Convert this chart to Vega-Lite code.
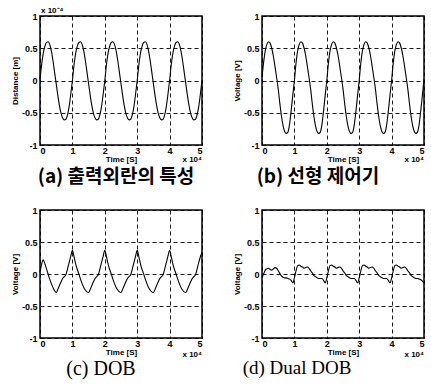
{
"$schema": "https://vega.github.io/schema/vega-lite/v6.json",
"padding": {"left": 10, "top": 6, "right": 3, "bottom": 3},
"background": "white",
"config": {
 "view": {"stroke": "black", "strokeWidth": 1.5},
 "axis": {"grid": true, "gridColor": "black", "gridDash": [4, 3], "gridWidth": 0.9, "gridOpacity": 1, "domain": false, "ticks": false, "labelOverlap": false,
  "labelFont": "Liberation Sans", "labelFontWeight": "bold", "labelFontSize": 9, "labelColor": "black", "labelPadding": 3,
  "titleFont": "Liberation Sans", "titleFontWeight": "bold", "titleFontSize": 8, "titleColor": "black", "titlePadding": 2},
 "axisX": {"labelPadding": 1, "titlePadding": 0},
 "title": {"orient": "bottom", "font": "Noto Sans CJK KR", "fontSize": 19, "fontWeight": "bold", "color": "black", "offset": 0}
},
"datasets": {
 "a": [
  {"t":0,"v":0.02},{"t":0.05,"v":0.24},{"t":0.1,"v":0.42},{"t":0.15,"v":0.53},{"t":0.2,"v":0.59},{"t":0.25,"v":0.6},{"t":0.3,"v":0.56},{"t":0.35,"v":0.46},{"t":0.4,"v":0.31},{"t":0.45,"v":0.13},{"t":0.5,"v":-0.05},{"t":0.55,"v":-0.23},{"t":0.6,"v":-0.39},{"t":0.65,"v":-0.51},{"t":0.7,"v":-0.58},{"t":0.75,"v":-0.61},{"t":0.8,"v":-0.6},{"t":0.85,"v":-0.53},{"t":0.9,"v":-0.4},{"t":0.95,"v":-0.21},
  {"t":1,"v":0.0},{"t":1.05,"v":0.24},{"t":1.1,"v":0.42},{"t":1.15,"v":0.53},{"t":1.2,"v":0.59},{"t":1.25,"v":0.6},{"t":1.3,"v":0.56},{"t":1.35,"v":0.46},{"t":1.4,"v":0.31},{"t":1.45,"v":0.13},{"t":1.5,"v":-0.05},{"t":1.55,"v":-0.23},{"t":1.6,"v":-0.39},{"t":1.65,"v":-0.51},{"t":1.7,"v":-0.58},{"t":1.75,"v":-0.61},{"t":1.8,"v":-0.6},{"t":1.85,"v":-0.53},{"t":1.9,"v":-0.4},{"t":1.95,"v":-0.21},
  {"t":2,"v":0.0},{"t":2.05,"v":0.24},{"t":2.1,"v":0.42},{"t":2.15,"v":0.53},{"t":2.2,"v":0.59},{"t":2.25,"v":0.6},{"t":2.3,"v":0.56},{"t":2.35,"v":0.46},{"t":2.4,"v":0.31},{"t":2.45,"v":0.13},{"t":2.5,"v":-0.05},{"t":2.55,"v":-0.23},{"t":2.6,"v":-0.39},{"t":2.65,"v":-0.51},{"t":2.7,"v":-0.58},{"t":2.75,"v":-0.61},{"t":2.8,"v":-0.6},{"t":2.85,"v":-0.53},{"t":2.9,"v":-0.4},{"t":2.95,"v":-0.21},
  {"t":3,"v":0.0},{"t":3.05,"v":0.24},{"t":3.1,"v":0.42},{"t":3.15,"v":0.53},{"t":3.2,"v":0.59},{"t":3.25,"v":0.6},{"t":3.3,"v":0.56},{"t":3.35,"v":0.46},{"t":3.4,"v":0.31},{"t":3.45,"v":0.13},{"t":3.5,"v":-0.05},{"t":3.55,"v":-0.23},{"t":3.6,"v":-0.39},{"t":3.65,"v":-0.51},{"t":3.7,"v":-0.58},{"t":3.75,"v":-0.61},{"t":3.8,"v":-0.6},{"t":3.85,"v":-0.53},{"t":3.9,"v":-0.4},{"t":3.95,"v":-0.21},
  {"t":4,"v":0.0},{"t":4.05,"v":0.24},{"t":4.1,"v":0.42},{"t":4.15,"v":0.53},{"t":4.2,"v":0.59},{"t":4.25,"v":0.6},{"t":4.3,"v":0.56},{"t":4.35,"v":0.46},{"t":4.4,"v":0.31},{"t":4.45,"v":0.13},{"t":4.5,"v":-0.05},{"t":4.55,"v":-0.23},{"t":4.6,"v":-0.39},{"t":4.65,"v":-0.51},{"t":4.7,"v":-0.58},{"t":4.75,"v":-0.61},{"t":4.8,"v":-0.6},{"t":4.85,"v":-0.53},{"t":4.9,"v":-0.4},{"t":4.95,"v":-0.21},
  {"t":5,"v":0.0}
 ],
 "b": [
  {"t":0,"v":0.05},{"t":0.05,"v":0.28},{"t":0.1,"v":0.46},{"t":0.15,"v":0.56},{"t":0.2,"v":0.6},{"t":0.25,"v":0.58},{"t":0.3,"v":0.5},{"t":0.35,"v":0.38},{"t":0.4,"v":0.22},{"t":0.45,"v":0.05},{"t":0.5,"v":-0.13},{"t":0.55,"v":-0.35},{"t":0.6,"v":-0.55},{"t":0.65,"v":-0.7},{"t":0.7,"v":-0.79},{"t":0.75,"v":-0.82},{"t":0.8,"v":-0.8},{"t":0.85,"v":-0.68},{"t":0.9,"v":-0.47},{"t":0.95,"v":-0.23},
  {"t":1,"v":0.0},{"t":1.05,"v":0.27},{"t":1.1,"v":0.46},{"t":1.15,"v":0.56},{"t":1.2,"v":0.6},{"t":1.25,"v":0.58},{"t":1.3,"v":0.5},{"t":1.35,"v":0.38},{"t":1.4,"v":0.22},{"t":1.45,"v":0.05},{"t":1.5,"v":-0.13},{"t":1.55,"v":-0.35},{"t":1.6,"v":-0.55},{"t":1.65,"v":-0.7},{"t":1.7,"v":-0.79},{"t":1.75,"v":-0.82},{"t":1.8,"v":-0.8},{"t":1.85,"v":-0.68},{"t":1.9,"v":-0.47},{"t":1.95,"v":-0.23},
  {"t":2,"v":0.0},{"t":2.05,"v":0.27},{"t":2.1,"v":0.46},{"t":2.15,"v":0.56},{"t":2.2,"v":0.6},{"t":2.25,"v":0.58},{"t":2.3,"v":0.5},{"t":2.35,"v":0.38},{"t":2.4,"v":0.22},{"t":2.45,"v":0.05},{"t":2.5,"v":-0.13},{"t":2.55,"v":-0.35},{"t":2.6,"v":-0.55},{"t":2.65,"v":-0.7},{"t":2.7,"v":-0.79},{"t":2.75,"v":-0.82},{"t":2.8,"v":-0.8},{"t":2.85,"v":-0.68},{"t":2.9,"v":-0.47},{"t":2.95,"v":-0.23},
  {"t":3,"v":0.0},{"t":3.05,"v":0.27},{"t":3.1,"v":0.46},{"t":3.15,"v":0.56},{"t":3.2,"v":0.6},{"t":3.25,"v":0.58},{"t":3.3,"v":0.5},{"t":3.35,"v":0.38},{"t":3.4,"v":0.22},{"t":3.45,"v":0.05},{"t":3.5,"v":-0.13},{"t":3.55,"v":-0.35},{"t":3.6,"v":-0.55},{"t":3.65,"v":-0.7},{"t":3.7,"v":-0.79},{"t":3.75,"v":-0.82},{"t":3.8,"v":-0.8},{"t":3.85,"v":-0.68},{"t":3.9,"v":-0.47},{"t":3.95,"v":-0.23},
  {"t":4,"v":0.0},{"t":4.05,"v":0.27},{"t":4.1,"v":0.46},{"t":4.15,"v":0.56},{"t":4.2,"v":0.6},{"t":4.25,"v":0.58},{"t":4.3,"v":0.5},{"t":4.35,"v":0.38},{"t":4.4,"v":0.22},{"t":4.45,"v":0.05},{"t":4.5,"v":-0.13},{"t":4.55,"v":-0.35},{"t":4.6,"v":-0.55},{"t":4.65,"v":-0.7},{"t":4.7,"v":-0.79},{"t":4.75,"v":-0.82},{"t":4.8,"v":-0.8},{"t":4.85,"v":-0.68},{"t":4.9,"v":-0.47},{"t":4.95,"v":-0.23},
  {"t":5,"v":0.02}
 ],
 "c": [
  {"t":0,"v":0.03},{"t":0.05,"v":0.15},{"t":0.1,"v":0.22},{"t":0.15,"v":0.16},{"t":0.2,"v":0.08},{"t":0.25,"v":0.0},{"t":0.3,"v":-0.08},{"t":0.35,"v":-0.15},{"t":0.4,"v":-0.21},{"t":0.45,"v":-0.26},{"t":0.5,"v":-0.29},{"t":0.55,"v":-0.24},{"t":0.6,"v":-0.18},{"t":0.65,"v":-0.12},{"t":0.7,"v":-0.07},{"t":0.75,"v":-0.04},{"t":0.8,"v":-0.01},{"t":0.85,"v":0.08},{"t":0.9,"v":0.18},{"t":0.95,"v":0.28},
  {"t":1,"v":0.37},{"t":1.05,"v":0.27},{"t":1.1,"v":0.16},{"t":1.15,"v":0.07},{"t":1.2,"v":0.0},{"t":1.25,"v":-0.08},{"t":1.3,"v":-0.15},{"t":1.35,"v":-0.21},{"t":1.4,"v":-0.25},{"t":1.45,"v":-0.28},{"t":1.5,"v":-0.29},{"t":1.55,"v":-0.24},{"t":1.6,"v":-0.18},{"t":1.65,"v":-0.12},{"t":1.7,"v":-0.07},{"t":1.75,"v":-0.04},{"t":1.8,"v":-0.01},{"t":1.85,"v":0.08},{"t":1.9,"v":0.18},{"t":1.95,"v":0.28},
  {"t":2,"v":0.37},{"t":2.05,"v":0.27},{"t":2.1,"v":0.16},{"t":2.15,"v":0.07},{"t":2.2,"v":0.0},{"t":2.25,"v":-0.08},{"t":2.3,"v":-0.15},{"t":2.35,"v":-0.21},{"t":2.4,"v":-0.25},{"t":2.45,"v":-0.28},{"t":2.5,"v":-0.29},{"t":2.55,"v":-0.24},{"t":2.6,"v":-0.18},{"t":2.65,"v":-0.12},{"t":2.7,"v":-0.07},{"t":2.75,"v":-0.04},{"t":2.8,"v":-0.01},{"t":2.85,"v":0.08},{"t":2.9,"v":0.18},{"t":2.95,"v":0.28},
  {"t":3,"v":0.37},{"t":3.05,"v":0.27},{"t":3.1,"v":0.16},{"t":3.15,"v":0.07},{"t":3.2,"v":0.0},{"t":3.25,"v":-0.08},{"t":3.3,"v":-0.15},{"t":3.35,"v":-0.21},{"t":3.4,"v":-0.25},{"t":3.45,"v":-0.28},{"t":3.5,"v":-0.29},{"t":3.55,"v":-0.24},{"t":3.6,"v":-0.18},{"t":3.65,"v":-0.12},{"t":3.7,"v":-0.07},{"t":3.75,"v":-0.04},{"t":3.8,"v":-0.01},{"t":3.85,"v":0.08},{"t":3.9,"v":0.18},{"t":3.95,"v":0.28},
  {"t":4,"v":0.37},{"t":4.05,"v":0.27},{"t":4.1,"v":0.16},{"t":4.15,"v":0.07},{"t":4.2,"v":0.0},{"t":4.25,"v":-0.08},{"t":4.3,"v":-0.15},{"t":4.35,"v":-0.21},{"t":4.4,"v":-0.25},{"t":4.45,"v":-0.28},{"t":4.5,"v":-0.29},{"t":4.55,"v":-0.24},{"t":4.6,"v":-0.18},{"t":4.65,"v":-0.12},{"t":4.7,"v":-0.07},{"t":4.75,"v":-0.04},{"t":4.8,"v":-0.01},{"t":4.85,"v":0.08},{"t":4.9,"v":0.18},{"t":4.95,"v":0.27},
  {"t":5,"v":0.34}
 ],
 "d": [
  {"t":0,"v":-0.06},{"t":0.05,"v":0.0},{"t":0.1,"v":0.06},{"t":0.15,"v":0.08},{"t":0.2,"v":0.09},{"t":0.25,"v":0.07},{"t":0.3,"v":0.06},{"t":0.35,"v":0.08},{"t":0.4,"v":0.1},{"t":0.45,"v":0.09},{"t":0.5,"v":0.05},{"t":0.55,"v":0.01},{"t":0.6,"v":-0.03},{"t":0.65,"v":-0.05},{"t":0.7,"v":-0.06},{"t":0.75,"v":-0.06},{"t":0.8,"v":-0.07},{"t":0.85,"v":-0.08},{"t":0.9,"v":-0.1},{"t":0.95,"v":-0.14},
  {"t":1,"v":-0.06},{"t":1.05,"v":0.05},{"t":1.1,"v":0.13},{"t":1.15,"v":0.14},{"t":1.2,"v":0.12},{"t":1.25,"v":0.11},{"t":1.3,"v":0.09},{"t":1.35,"v":0.1},{"t":1.4,"v":0.11},{"t":1.45,"v":0.09},{"t":1.5,"v":0.05},{"t":1.55,"v":0.02},{"t":1.6,"v":-0.02},{"t":1.65,"v":-0.04},{"t":1.7,"v":-0.06},{"t":1.75,"v":-0.07},{"t":1.8,"v":-0.07},{"t":1.85,"v":-0.07},{"t":1.9,"v":-0.1},{"t":1.95,"v":-0.14},
  {"t":2,"v":-0.06},{"t":2.05,"v":0.05},{"t":2.1,"v":0.13},{"t":2.15,"v":0.14},{"t":2.2,"v":0.12},{"t":2.25,"v":0.11},{"t":2.3,"v":0.09},{"t":2.35,"v":0.1},{"t":2.4,"v":0.11},{"t":2.45,"v":0.09},{"t":2.5,"v":0.05},{"t":2.55,"v":0.02},{"t":2.6,"v":-0.02},{"t":2.65,"v":-0.04},{"t":2.7,"v":-0.06},{"t":2.75,"v":-0.07},{"t":2.8,"v":-0.07},{"t":2.85,"v":-0.07},{"t":2.9,"v":-0.1},{"t":2.95,"v":-0.14},
  {"t":3,"v":-0.06},{"t":3.05,"v":0.05},{"t":3.1,"v":0.13},{"t":3.15,"v":0.14},{"t":3.2,"v":0.12},{"t":3.25,"v":0.11},{"t":3.3,"v":0.09},{"t":3.35,"v":0.1},{"t":3.4,"v":0.11},{"t":3.45,"v":0.09},{"t":3.5,"v":0.05},{"t":3.55,"v":0.02},{"t":3.6,"v":-0.02},{"t":3.65,"v":-0.04},{"t":3.7,"v":-0.06},{"t":3.75,"v":-0.07},{"t":3.8,"v":-0.07},{"t":3.85,"v":-0.07},{"t":3.9,"v":-0.1},{"t":3.95,"v":-0.14},
  {"t":4,"v":-0.06},{"t":4.05,"v":0.05},{"t":4.1,"v":0.13},{"t":4.15,"v":0.14},{"t":4.2,"v":0.12},{"t":4.25,"v":0.11},{"t":4.3,"v":0.09},{"t":4.35,"v":0.1},{"t":4.4,"v":0.11},{"t":4.45,"v":0.09},{"t":4.5,"v":0.05},{"t":4.55,"v":0.02},{"t":4.6,"v":-0.02},{"t":4.65,"v":-0.04},{"t":4.7,"v":-0.06},{"t":4.75,"v":-0.07},{"t":4.8,"v":-0.07},{"t":4.85,"v":-0.08},{"t":4.9,"v":-0.09},{"t":4.95,"v":-0.11},
  {"t":5,"v":-0.14}
 ]
},
"columns": 2,
"spacing": {"row": 65, "column": 60},
"bounds": "flush",
"concat": [
 {
  "width": 162, "height": 129,
  "title": {"text": "(a) 출력외란의 특성", "dx": -5},
  "encoding": {
   "x": {"type": "quantitative", "scale": {"domain": [0, 5], "nice": false}, "axis": {"values": [0, 1, 2, 3, 4, 5], "title": "Time [S]"}},
   "y": {"type": "quantitative", "scale": {"domain": [-1, 1], "nice": false}, "axis": {"values": [-1, -0.5, 0, 0.5, 1], "labelExpr": "'' + datum.value", "title": "Distance [m]"}}
  },
  "layer": [
   {"data": {"name": "a"}, "mark": {"type": "line", "color": "black", "strokeWidth": 1.1, "interpolate": "monotone"},
    "encoding": {"x": {"field": "t"}, "y": {"field": "v"}}},
   {"data": {"values": [{"s": "x 10⁴"}]}, "mark": {"type": "text", "align": "right", "baseline": "top", "dy": 11, "font": "Liberation Sans", "fontSize": 8, "fontWeight": "bold", "color": "black"},
    "encoding": {"x": {"datum": 5}, "y": {"datum": -1}, "text": {"field": "s"}}},
   {"data": {"values": [{"s": "x 10⁻⁴"}]}, "mark": {"type": "text", "align": "left", "baseline": "bottom", "dx": 1, "dy": -1, "font": "Liberation Sans", "fontSize": 8, "fontWeight": "bold", "color": "black"},
    "encoding": {"x": {"datum": 0}, "y": {"datum": 1}, "text": {"field": "s"}}}
  ]
 },
 {
  "width": 162, "height": 129,
  "title": {"text": "(b) 선형 제어기", "dx": -25},
  "encoding": {
   "x": {"type": "quantitative", "scale": {"domain": [0, 5], "nice": false}, "axis": {"values": [0, 1, 2, 3, 4, 5], "title": "Time [S]"}},
   "y": {"type": "quantitative", "scale": {"domain": [-1, 1], "nice": false}, "axis": {"values": [-1, -0.5, 0, 0.5, 1], "labelExpr": "'' + datum.value", "title": "Voltage [V]"}}
  },
  "layer": [
   {"data": {"name": "b"}, "mark": {"type": "line", "color": "black", "strokeWidth": 1.1, "interpolate": "monotone"},
    "encoding": {"x": {"field": "t"}, "y": {"field": "v"}}},
   {"data": {"values": [{"s": "x 10⁴"}]}, "mark": {"type": "text", "align": "right", "baseline": "top", "dy": 11, "font": "Liberation Sans", "fontSize": 8, "fontWeight": "bold", "color": "black"},
    "encoding": {"x": {"datum": 5}, "y": {"datum": -1}, "text": {"field": "s"}}}
  ]
 },
 {
  "width": 162, "height": 128,
  "title": {"text": "(c) DOB", "dx": -20, "font": "Liberation Serif", "fontWeight": "normal", "fontSize": 20, "offset": 0},
  "encoding": {
   "x": {"type": "quantitative", "scale": {"domain": [0, 5], "nice": false}, "axis": {"values": [0, 1, 2, 3, 4, 5], "title": "Time [S]"}},
   "y": {"type": "quantitative", "scale": {"domain": [-1, 1], "nice": false}, "axis": {"values": [-1, -0.5, 0, 0.5, 1], "labelExpr": "'' + datum.value", "title": "Voltage [V]"}}
  },
  "layer": [
   {"data": {"name": "c"}, "mark": {"type": "line", "color": "black", "strokeWidth": 1.1, "interpolate": "monotone"},
    "encoding": {"x": {"field": "t"}, "y": {"field": "v"}}},
   {"data": {"values": [{"s": "x 10⁴"}]}, "mark": {"type": "text", "align": "right", "baseline": "top", "dy": 13, "font": "Liberation Sans", "fontSize": 8, "fontWeight": "bold", "color": "black"},
    "encoding": {"x": {"datum": 5}, "y": {"datum": -1}, "text": {"field": "s"}}}
  ]
 },
 {
  "width": 162, "height": 128,
  "title": {"text": "(d) Dual DOB", "dx": -46, "font": "Liberation Serif", "fontWeight": "normal", "fontSize": 19, "offset": 0},
  "encoding": {
   "x": {"type": "quantitative", "scale": {"domain": [0, 5], "nice": false}, "axis": {"values": [0, 1, 2, 3, 4, 5], "title": "Time [S]"}},
   "y": {"type": "quantitative", "scale": {"domain": [-1, 1], "nice": false}, "axis": {"values": [-1, -0.5, 0, 0.5, 1], "labelExpr": "'' + datum.value", "title": "Voltage [V]"}}
  },
  "layer": [
   {"data": {"name": "d"}, "mark": {"type": "line", "color": "black", "strokeWidth": 1.1, "interpolate": "monotone"},
    "encoding": {"x": {"field": "t"}, "y": {"field": "v"}}},
   {"data": {"values": [{"s": "x 10⁴"}]}, "mark": {"type": "text", "align": "right", "baseline": "top", "dy": 13, "font": "Liberation Sans", "fontSize": 8, "fontWeight": "bold", "color": "black"},
    "encoding": {"x": {"datum": 5}, "y": {"datum": -1}, "text": {"field": "s"}}}
  ]
 }
]
}
